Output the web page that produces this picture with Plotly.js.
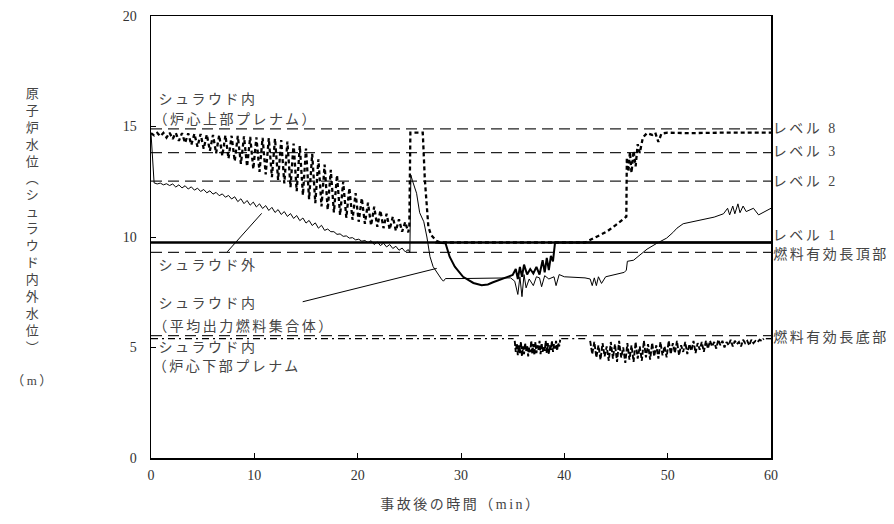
<!DOCTYPE html>
<html>
<head>
<meta charset="utf-8">
<script src="https://cdn.plot.ly/plotly-3.0.1.min.js"></script>
<style>
html,body{margin:0;padding:0;background:#fff;}
#chart{width:894px;height:524px;}
</style>
</head>
<body>
<div id="chart"></div>
<script>
// ---------------- DATA ----------------
const levelNames  = ['レベル 8', 'レベル 3', 'レベル 2', 'レベル 1', '燃料有効長頂部', '燃料有効長底部'];
const levelValues = [14.89, 13.82, 12.53, 9.75, 9.30, 5.54];

// common time base for the 0-25 min oscillating part (min)
const tOsc = [0,0.3,0.6,0.9,1.2,1.5,1.8,2.1,2.4,2.7,3.0,3.3,3.6,3.9,4.2,4.5,4.8,5.1,5.4,5.7,
  6.0,6.3,6.6,6.9,7.2,7.5,7.8,8.1,8.4,8.7,9.0,9.3,9.6,9.9,10.2,10.5,10.8,11.1,11.4,11.7,
  12.0,12.3,12.6,12.9,13.2,13.5,13.8,14.1,14.4,14.7,15.0,15.3,15.6,15.9,16.2,16.5,16.8,17.1,17.4,17.7,
  18.0,18.3,18.6,18.9,19.2,19.5,19.8,20.1,20.4,20.7,21.0,21.3,21.6,21.9,22.2,22.5,22.8,23.1,23.4,23.7,
  24.0,24.3,24.6,24.9];

// シュラウド内（炉心上部プレナム）
const upperPlenumOsc = [14.70,14.60,14.71,14.56,14.71,14.50,14.72,14.44,14.71,14.35,
  14.70,14.26,14.69,14.17,14.67,14.08,14.66,13.99,14.64,13.90,
  14.62,13.79,14.61,13.67,14.60,13.55,14.58,13.43,14.57,13.31,
  14.55,13.19,14.53,13.07,14.51,12.95,14.49,12.83,14.47,12.71,
  14.45,12.58,14.39,12.43,14.32,12.25,14.23,12.07,14.12,11.89,
  14.00,11.71,13.76,11.53,13.52,11.38,13.28,11.23,13.04,11.11,
  12.80,10.99,12.50,10.87,12.22,10.78,11.98,10.69,11.76,10.60,
  11.55,10.52,11.37,10.46,11.20,10.40,11.05,10.34,10.92,10.28,
  10.80,10.24,10.68,10.21];
const upperPlenumT2 = [25.0,25.1,26.3,26.5,26.84,27.1,27.6,28.0,42.0,42.65,43.3,44.1,45.0,46.0,46.05,46.2,46.35,46.5,46.7,46.9,47.1,47.3,47.6,48.0,48.5,48.8,49.1,49.4,50.0,52.0,55.0,58.0,60.0];
const upperPlenumV2 = [10.50,14.72,14.72,12.60,10.47,10.09,9.83,9.75,9.75,9.91,10.05,10.24,10.55,10.92,13.60,12.95,13.85,12.90,13.90,13.20,14.20,13.80,14.50,14.70,14.62,14.72,14.30,14.68,14.72,14.70,14.72,14.70,14.72];

// シュラウド外
const outsideOsc = [14.70,12.45,12.40,12.44,12.36,12.41,12.33,12.40,12.26,12.36,
  12.22,12.32,12.17,12.27,12.12,12.21,12.06,12.15,12.00,12.09,
  11.94,12.02,11.87,11.95,11.80,11.88,11.72,11.82,11.60,11.73,
  11.51,11.65,11.44,11.58,11.36,11.50,11.29,11.42,11.20,11.34,
  11.11,11.24,11.02,11.15,10.93,11.06,10.84,10.97,10.74,10.86,
  10.63,10.75,10.52,10.64,10.40,10.53,10.30,10.36,10.24,10.24,
  10.12,10.14,10.03,10.05,9.95,9.97,9.87,9.90,9.81,9.84,
  9.75,9.83,9.66,9.78,9.61,9.72,9.55,9.66,9.48,9.58,
  9.40,9.50,9.33,9.43];
const outsideT2 = [25.05,25.15,25.3,25.7,26.0,26.2,26.4,26.7,27.0,27.3,27.8,28.1,28.3,28.5,30.0,32.0,34.0,34.8,35.2,35.5,
  35.7,35.9,36.1,36.3,36.6,37.0,37.3,37.6,37.8,38.1,38.5,39.0,39.2,39.5,40.0,41.0,42.0,42.5,42.7,42.9,
  43.1,43.3,43.6,44.0,45.0,45.8,46.0,46.1,46.7,47.3,48.0,48.9,49.9,50.5,50.9,51.5,52.5,53.8,54.5,55.4,
  55.8,56.0,56.3,56.5,56.8,57.0,57.3,57.6,58.3,58.8,60.0];
const outsideV2 = [9.30,12.80,12.55,11.98,11.10,10.90,10.69,10.00,9.11,8.66,8.28,8.10,8.00,8.12,8.12,8.12,8.13,8.15,8.00,7.40,
  8.20,7.30,8.30,7.70,8.10,7.80,8.20,8.15,7.75,8.25,8.10,8.20,7.80,8.30,8.20,8.17,8.15,8.10,7.80,8.15,
  7.80,8.20,7.90,8.20,8.30,8.40,8.50,8.90,8.95,9.20,9.45,9.70,9.95,10.20,10.40,10.60,10.70,10.80,10.90,11.05,
  11.30,11.00,11.40,11.05,11.50,11.10,11.40,11.15,11.30,11.00,11.30];

// シュラウド内（平均出力燃料集合体）
const fuelT = [27.5,28.5,28.9,29.4,30.2,31.2,32.0,32.6,33.1,34.0,34.5,35.0,35.3,35.5,35.7,35.9,36.1,36.4,36.7,37.0,37.3,37.6,37.9,38.1,38.3,38.5,38.7,38.9,39.1,60];
const fuelV = [9.75,9.72,9.11,8.66,8.20,7.92,7.82,7.85,7.95,8.10,8.18,8.28,8.55,8.10,8.65,8.20,8.75,8.30,8.55,8.35,8.65,8.30,8.95,8.40,9.05,8.50,9.15,8.90,9.75,9.75];

// シュラウド内（炉心下部プレナム）
const lowerT1 = [0,35.1];
const lowerV1 = [5.40,5.40];
const lowerT2 = [35.2,35.3,35.4,35.5,35.6,35.7,35.8,35.9,36.0,36.1,36.2,36.3,36.4,36.5,36.6,36.7,36.8,36.9,37.0,37.1,
  37.2,37.3,37.4,37.5,37.6,37.7,37.8,37.9,38.0,38.1,38.2,38.3,38.4,38.5,38.6,38.7,38.8,38.9,39.0,39.1,
  39.2,39.3,39.4,39.5,39.6];
const lowerV2 = [5.30,4.80,5.20,4.65,5.10,4.75,5.25,4.60,5.05,4.70,
  5.20,4.85,5.10,4.60,5.00,4.80,5.30,4.70,5.15,4.65,
  5.25,4.75,5.10,4.90,5.30,4.70,5.20,4.80,5.05,4.85,
  5.30,4.75,5.20,4.70,5.10,4.90,5.30,4.80,5.15,4.95,
  5.30,4.85,5.20,5.05,5.35];
const lowerT3 = [39.7,42.4];
const lowerV3 = [5.40,5.40];
const lowerT4 = [42.5,42.7,42.9,43.1,43.3,43.5,43.7,43.9,44.1,44.3,44.5,44.7,44.9,45.1,45.3,45.5,45.7,45.9,46.1,46.3,
  46.5,46.7,46.9,47.1,47.3,47.5,47.7,47.9,48.1,48.3,48.5,48.7,48.9,49.1,49.3,49.5,49.7,49.9,50.1,50.3,
  50.5,50.7,50.9,51.1,51.3,51.5,51.7,51.9,52.1,52.3,52.5,52.7,52.9,53.1,53.3,53.5,53.7,53.9,
  54.1,54.3,54.5,54.7,54.9,55.1,55.3,55.5,55.7,55.9,56.1,56.3,56.5,56.7,56.9,57.1,57.3,57.5,57.7,57.9,
  58.1,58.3,58.5,58.7,58.9,59.1,59.3];
const lowerV4 = [5.30,4.70,5.25,4.55,5.10,4.45,5.20,4.60,5.05,4.40,
  5.25,4.50,5.15,4.35,5.30,4.55,5.00,4.30,5.20,4.45,
  5.10,4.35,5.25,4.50,5.05,4.40,5.30,4.55,5.15,4.45,
  5.20,4.60,5.10,4.50,5.25,4.65,5.05,4.55,5.30,4.70,
  5.20,4.75,5.30,4.65,5.10,4.80,5.25,4.70,5.15,4.85,
  5.30,4.75,5.20,4.90,5.25,4.80,5.30,4.95,
  5.30,5.05,5.25,4.95,5.35,5.10,5.30,5.00,5.25,5.10,
  5.35,5.05,5.30,5.15,5.25,5.05,5.35,5.20,5.30,5.10,
  5.35,5.20,5.30,5.25,5.35,5.30,5.40];
const lowerT5 = [59.5,60];
const lowerV5 = [5.40,5.40];

const xTicks = [0,10,20,30,40,50,60];
const yTicks = [0,5,10,15,20];

// ---------------- STYLE / LAYOUT ----------------
const FONT = 'Liberation Serif, "Noto Sans CJK JP", serif';
const JFONT = '"Liberation Serif", "Noto Sans CJK JP", sans-serif';
const X_RANGE = [0, 60];
const LS = 2.5; // letter spacing (px) applied to annotation text
const traces = [];

levelValues.forEach((v, i) => {
  const solid = (i === 3);
  traces.push({
    x: X_RANGE, y: [v, v], mode: 'lines', hoverinfo: 'skip', showlegend: false,
    line: {color: solid ? '#000' : '#222', width: solid ? 2.4 : 1.3, dash: solid ? 'solid' : '11px,6px'}
  });
});

// lower plenum: calm dash-dot baseline parts, then the noisy parts
traces.push({
  x: lowerT1.concat([null], lowerT3, [null], lowerT5),
  y: lowerV1.concat([null], lowerV3, [null], lowerV5),
  mode: 'lines', showlegend: false, connectgaps: false,
  line: {color: '#000', width: 1.4, dash: '7px,4px,2px,4px'}
});
traces.push({
  x: lowerT2.concat([null], lowerT4),
  y: lowerV2.concat([null], lowerV4),
  mode: 'lines', showlegend: false, connectgaps: false,
  line: {color: '#000', width: 1.9, dash: '5px,2px'}
});
traces.push({
  x: tOsc.concat(outsideT2), y: outsideOsc.concat(outsideV2),
  mode: 'lines', showlegend: false,
  line: {color: '#000', width: 1}
});
traces.push({
  x: fuelT, y: fuelV, mode: 'lines', showlegend: false,
  line: {color: '#000', width: 2}
});
traces.push({
  x: tOsc.concat(upperPlenumT2), y: upperPlenumOsc.concat(upperPlenumV2),
  mode: 'lines', showlegend: false,
  line: {color: '#000', width: 2.3, dash: '4px,3px'}
});

const txtFont = {family: JFONT, size: 14, color: '#444'};
const annotations = [];
function leftLabel(xref, yref, x, y, text, xshift) {
  // letter-spacing widens the text about its centre; shift it back so it starts at x
  return {xref: xref, yref: yref, x: x, y: y, xanchor: 'left', yanchor: 'middle',
    xshift: (xshift || 0) + text.length * LS / 2, text: text, showarrow: false, font: txtFont};
}
// right-hand level labels (y offsets relative to each level line)
const labelOffsets = [0.04, 0.03, 0.0, 0.30, -0.07, -0.06];
levelNames.forEach((n, i) => {
  annotations.push(leftLabel('paper', 'y', 1, levelValues[i] + labelOffsets[i], n, 0));
});
// in-plot labels
const inLabels = [
  {x: 0.55, y: 16.2, t: 'シュラウド内'},
  {x: 0.0, y: 15.3, t: '（炉心上部プレナム）'},
  {x: 0.55, y: 8.73, t: 'シュラウド外'},
  {x: 0.55, y: 6.97, t: 'シュラウド内'},
  {x: 0.0, y: 5.97, t: '（平均出力燃料集合体）'},
  {x: 0.55, y: 4.98, t: 'シュラウド内'},
  {x: 0.0, y: 4.12, t: '（炉心下部プレナム'}
];
inLabels.forEach(l => annotations.push(leftLabel('x', 'y', l.x, l.y, l.t, 0)));
// y axis title (vertical)
const yTitle = ['原','子','炉','水','位','︵','シ','ュ','ラ','ウ','ド','内','外','水','位','︶'];
annotations.push({xref: 'paper', yref: 'paper', x: -0.19, y: (458 - 84) / 442, xanchor: 'center', yanchor: 'top',
  text: yTitle.join('<br>'), showarrow: false, font: {family: JFONT, size: 13, color: '#444'}});
annotations.push({xref: 'paper', yref: 'paper', x: -0.19, y: (458 - 380) / 442, xanchor: 'center', yanchor: 'middle',
  text: '（m）', showarrow: false, font: {family: JFONT, size: 13, color: '#444'}});
// x axis title
annotations.push({xref: 'paper', yref: 'paper', x: 0.5, y: (458 - 504) / 442, xanchor: 'center', yanchor: 'middle',
  text: '事故後の時間（min）', showarrow: false, font: {family: JFONT, size: 14, color: '#444'}});

const shapes = [
  {type: 'line', xref: 'x', yref: 'y', x0: 7.38, y0: 9.33, x1: 10.71, y1: 11.07, line: {color: '#000', width: 1}},
  {type: 'line', xref: 'x', yref: 'y', x0: 14.68, y0: 7.07, x1: 27.65, y1: 8.58, line: {color: '#000', width: 1}}
];

const axisCommon = {
  showline: true, linecolor: '#000', linewidth: 1.5, mirror: true,
  ticks: 'inside', ticklen: 5, tickcolor: '#000', tickwidth: 1,
  showgrid: false, zeroline: false,
  tickfont: {family: FONT, size: 14, color: '#333'}, fixedrange: true
};

const layout = {
  width: 894, height: 524,
  margin: {l: 151, r: 123, t: 16, b: 66},
  paper_bgcolor: '#fff', plot_bgcolor: '#fff',
  showlegend: false,
  xaxis: Object.assign({}, axisCommon, {range: X_RANGE, tickvals: xTicks, ticktext: xTicks.map(String), ticklabelstandoff: 4}),
  yaxis: Object.assign({}, axisCommon, {range: [0, 20], tickvals: yTicks, ticktext: yTicks.map(String), ticklabelstandoff: 10}),
  annotations: annotations,
  shapes: shapes
};

Plotly.newPlot('chart', traces, layout, {staticPlot: true, displayModeBar: false}).then(() => {
  document.querySelectorAll('.annotation-text').forEach(el => { el.style.letterSpacing = LS + 'px'; });
});
</script>
</body>
</html>
